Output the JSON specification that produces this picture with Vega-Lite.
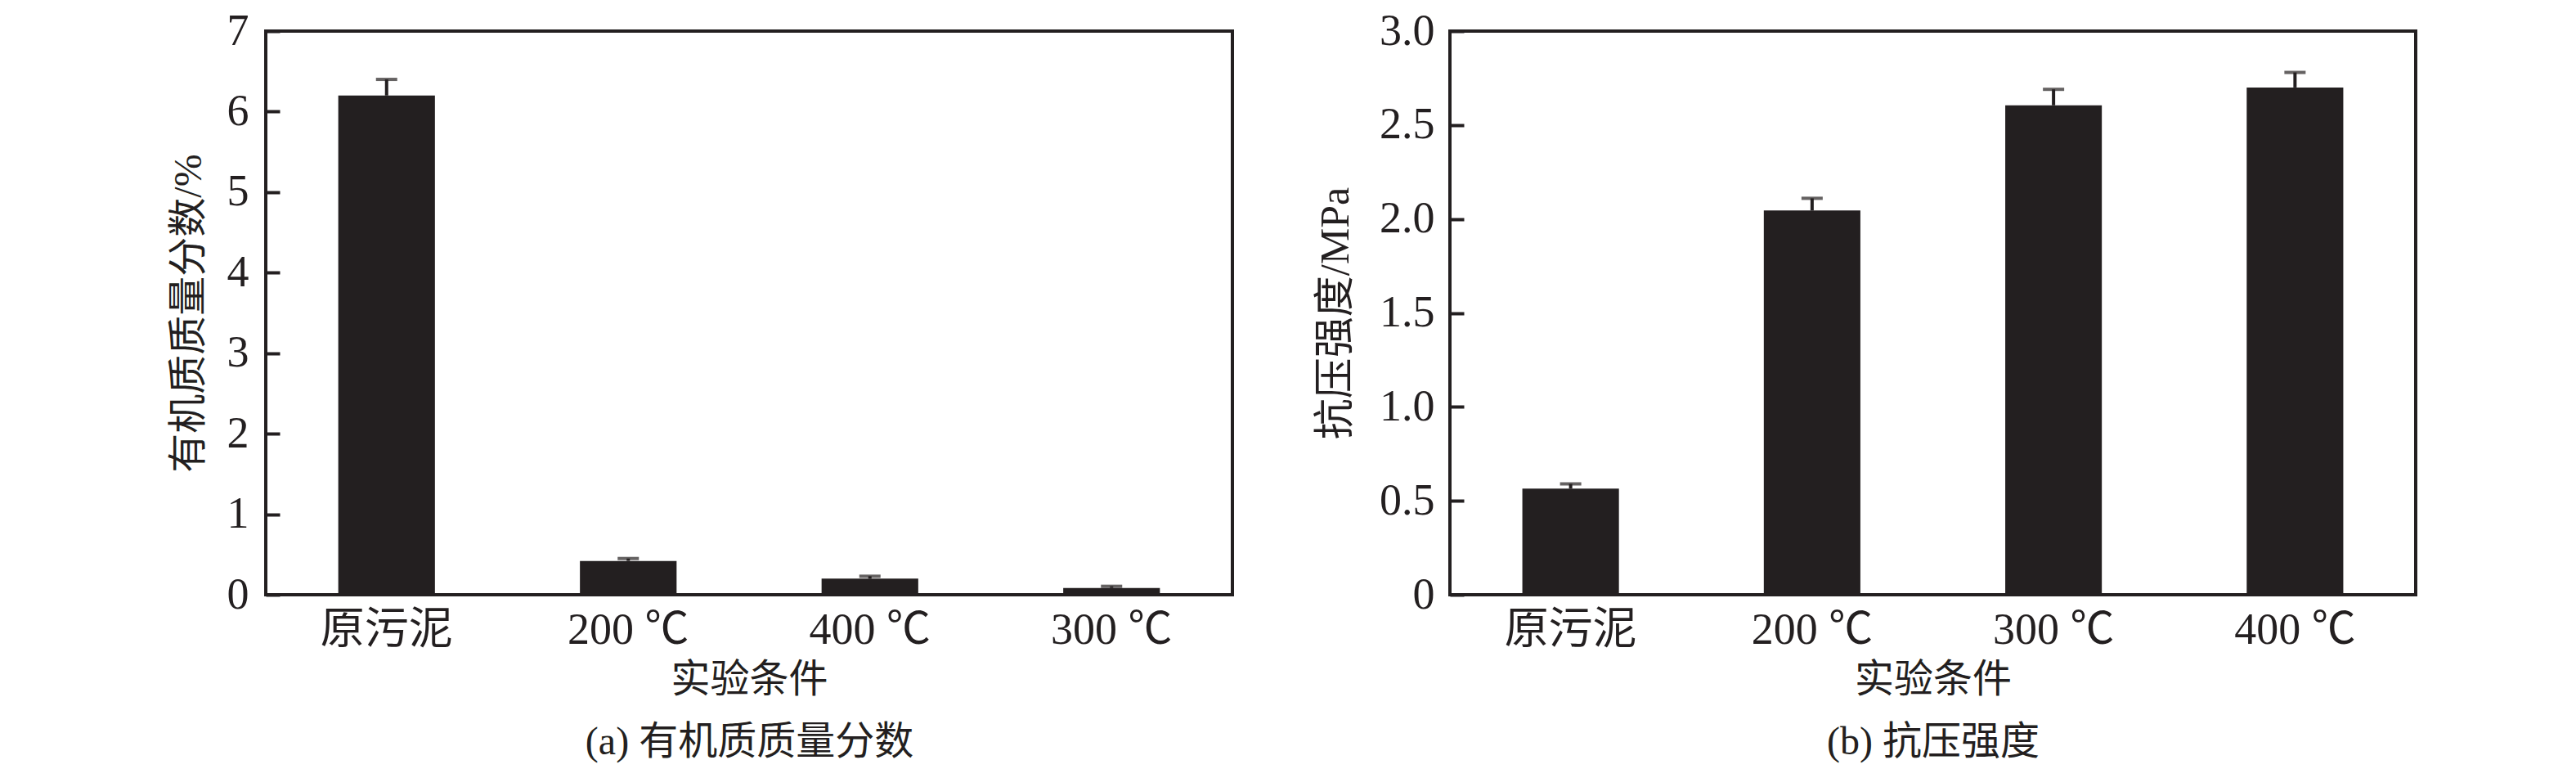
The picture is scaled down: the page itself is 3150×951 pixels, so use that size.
{
  "$schema": "https://vega.github.io/schema/vega-lite/v6.json",
  "padding": {"left": 205, "top": 9, "right": 10, "bottom": 5},
  "background": "white",
  "config": {
    "view": {"stroke": "#231f20", "strokeWidth": 4},
    "font": "Liberation Serif, Noto Sans CJK SC",
    "axis": {
      "labelFont": "Liberation Serif, Noto Sans CJK SC",
      "titleFont": "Liberation Serif, Noto Sans CJK SC",
      "labelColor": "#231f20",
      "titleColor": "#231f20",
      "titleFontWeight": "normal",
      "grid": false,
      "domain": false
    },
    "concat": {"spacing": 97}
  },
  "datasets": {
    "organic": [
      {"condition": "原污泥", "value": 6.2, "upper": 6.4},
      {"condition": "200 ℃", "value": 0.42, "upper": 0.45},
      {"condition": "400 ℃", "value": 0.2, "upper": 0.23},
      {"condition": "300 ℃", "value": 0.085, "upper": 0.105}
    ],
    "strength": [
      {"condition": "原污泥", "value": 0.565, "upper": 0.59},
      {"condition": "200 ℃", "value": 2.045, "upper": 2.11},
      {"condition": "300 ℃", "value": 2.605, "upper": 2.69},
      {"condition": "400 ℃", "value": 2.7, "upper": 2.78}
    ]
  },
  "hconcat": [
    {
      "width": 1182,
      "height": 689,
      "data": {"name": "organic"},
      "encoding": {
        "x": {
          "field": "condition",
          "type": "nominal",
          "sort": null,
          "scale": {"paddingInner": 0.6, "paddingOuter": 0.3},
          "axis": {
            "title": ["实验条件", "(a) 有机质质量分数"],
            "labelAngle": 0,
            "ticks": false,
            "labelPadding": 16,
            "labelFontSize": 54,
            "titleFontSize": 48,
            "titleLineHeight": 76,
            "titlePadding": 10
          }
        }
      },
      "layer": [
        {
          "mark": {"type": "bar", "color": "#231f20"},
          "encoding": {
            "y": {
              "field": "value",
              "type": "quantitative",
              "scale": {"domain": [0, 7], "nice": false},
              "axis": {
                "title": "有机质质量分数/%",
                "values": [0, 1, 2, 3, 4, 5, 6, 7],
                "format": "d",
                "tickSize": -17,
                "tickWidth": 4,
                "tickColor": "#231f20",
                "labelPadding": 38,
                "labelFontSize": 54,
                "titleFontSize": 48,
                "titlePadding": 22
              }
            }
          }
        },
        {
          "mark": {"type": "rule", "color": "#231f20", "strokeWidth": 4},
          "encoding": {
            "y": {"field": "value", "type": "quantitative"},
            "y2": {"field": "upper"}
          }
        },
        {
          "mark": {"type": "tick", "color": "#231f20", "size": 26, "thickness": 4},
          "encoding": {
            "y": {"field": "upper", "type": "quantitative"}
          }
        }
      ]
    },
    {
      "width": 1181,
      "height": 689,
      "data": {"name": "strength"},
      "encoding": {
        "x": {
          "field": "condition",
          "type": "nominal",
          "sort": null,
          "scale": {"paddingInner": 0.6, "paddingOuter": 0.3},
          "axis": {
            "title": ["实验条件", "(b) 抗压强度"],
            "labelAngle": 0,
            "ticks": false,
            "labelPadding": 16,
            "labelFontSize": 54,
            "titleFontSize": 48,
            "titleLineHeight": 76,
            "titlePadding": 10
          }
        }
      },
      "layer": [
        {
          "mark": {"type": "bar", "color": "#231f20"},
          "encoding": {
            "y": {
              "field": "value",
              "type": "quantitative",
              "scale": {"domain": [0, 3], "nice": false},
              "axis": {
                "title": "抗压强度/MPa",
                "values": [0, 0.5, 1, 1.5, 2, 2.5, 3],
                "labelExpr": "datum.value === 0 ? '0' : format(datum.value, '.1f')",
                "tickSize": -17,
                "tickWidth": 4,
                "tickColor": "#231f20",
                "labelPadding": 36,
                "labelFontSize": 54,
                "titleFontSize": 50,
                "titlePadding": 28
              }
            }
          }
        },
        {
          "mark": {"type": "rule", "color": "#231f20", "strokeWidth": 4},
          "encoding": {
            "y": {"field": "value", "type": "quantitative"},
            "y2": {"field": "upper"}
          }
        },
        {
          "mark": {"type": "tick", "color": "#231f20", "size": 26, "thickness": 4},
          "encoding": {
            "y": {"field": "upper", "type": "quantitative"}
          }
        }
      ]
    }
  ]
}
